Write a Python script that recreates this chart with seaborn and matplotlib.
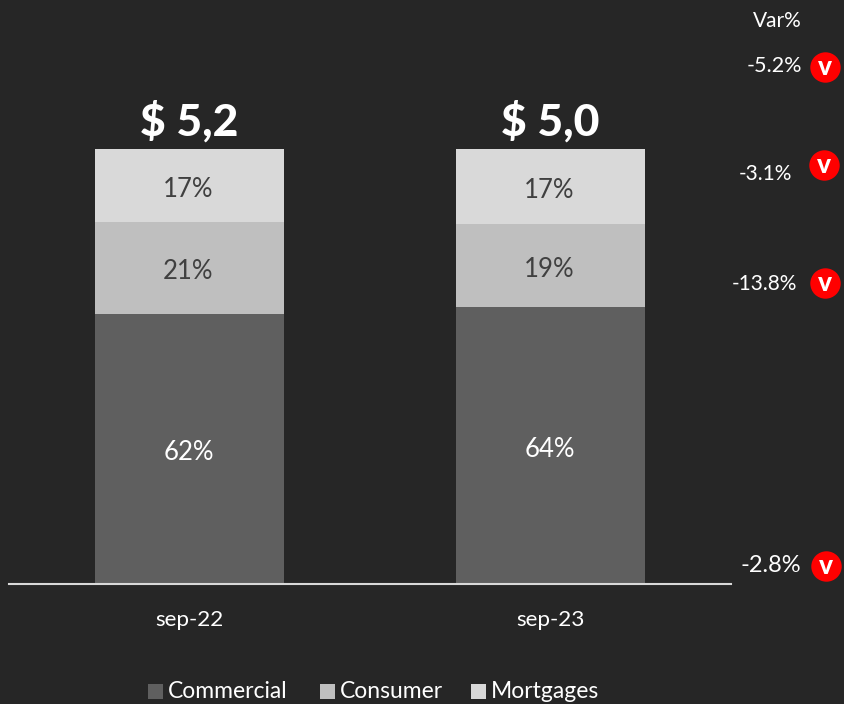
import pandas as pd
import matplotlib
matplotlib.use('Agg')
import matplotlib.pyplot as plt
import seaborn as sns

# Data
months = ['sep-22', 'sep-23']
segments = ['Commercial', 'Consumer', 'Mortgages']
commercial = [62.0, 63.6]
consumer = [21.2, 19.1]
mortgages = [16.8, 17.3]
totals = ['$ 5,2', '$ 5,0']
var_labels = ['-5.2%', '-3.1%', '-13.8%', '-2.8%']

BG = '#262626'
COLORS = ['#5f5f5f', '#bfbfbf', '#d9d9d9']
TEXT_COLORS = ['#ffffff', '#404040', '#404040']
W, H = 844, 704

sns.set_theme(style='dark')
plt.rcParams['font.family'] = ['Lato', 'DejaVu Sans']

fig = plt.figure(figsize=(W / 100, H / 100), dpi=100, facecolor=BG)
ax = fig.add_axes([9 / W, 1 - 584 / H, 722 / W, 584 / H], facecolor='none')

# Stacked bars: draw cumulative totals back to front
series = [commercial, consumer, mortgages]
df = pd.DataFrame({'month': months, 'Commercial': commercial, 'Consumer': consumer, 'Mortgages': mortgages})
df['c1'] = df['Commercial']
df['c2'] = df['c1'] + df['Consumer']
df['c3'] = df['c2'] + df['Mortgages']
for col, color in zip(['c3', 'c2', 'c1'], COLORS[::-1]):
    sns.barplot(data=df, x='month', y=col, color=color, saturation=1, width=0.526, ax=ax,
                zorder=2, linewidth=0, edgecolor='none')

ax.set_xlim(-0.5, 1.5)
ax.set_ylim(0, 134.25)
ax.set_xlabel('')
ax.set_ylabel('')
ax.set_yticks([])
ax.grid(False)
ax.tick_params(axis='x', length=0, pad=19, labelsize=16.2, labelcolor='white')
for name in ['top', 'left', 'right']:
    ax.spines[name].set_visible(False)
ax.spines['bottom'].set_color('#d9d9d9')
ax.spines['bottom'].set_linewidth(1.5)

# Segment labels and totals
for i in range(len(months)):
    base = 0
    for vals, tc in zip(series, TEXT_COLORS):
        ax.text(i - 0.003, base + vals[i] / 2 - 0.8, f'{vals[i]:.0f}%', ha='center', va='center',
                fontsize=18.5, color=tc)
        base += vals[i]
    ax.text(i, base + 6.4, totals[i], ha='center', va='center', fontsize=32,
            fontweight='black', color='white')

# Var% column on the right, in pixel coordinates
over = fig.add_axes([0, 0, 1, 1], facecolor='none')
over.set_xlim(0, W)
over.set_ylim(H, 0)
over.axis('off')
over.text(777, 21, 'Var%', ha='center', va='center', fontsize=15, color='white')
text_right = [802, 792, 797, 801]
text_y = [66, 174, 284, 565]
text_size = [15.5, 15, 15, 17]
badge_x = [825, 824, 825, 826]
badge_y = [67, 165, 283, 566]
for label, tx, ty, ts, bx, by in zip(var_labels, text_right, text_y, text_size, badge_x, badge_y):
    over.text(tx, ty, label, ha='right', va='center', fontsize=ts, color='white')
    over.scatter([bx], [by], s=480, color='#ff0000', linewidths=0, zorder=3)
    over.text(bx, by, 'v', ha='center', va='center', fontsize=19, fontweight='black',
              color='white', zorder=4)

# Legend
leg_x = [148, 320, 471]
for name, color, lx in zip(segments, COLORS, leg_x):
    over.add_patch(plt.Rectangle((lx, 684), 15, 15, color=color, lw=0))
    over.text(lx + 20, 691, name, ha='left', va='center', fontsize=16.5, color='white')

fig.savefig('out.png', dpi=100, facecolor=BG)
